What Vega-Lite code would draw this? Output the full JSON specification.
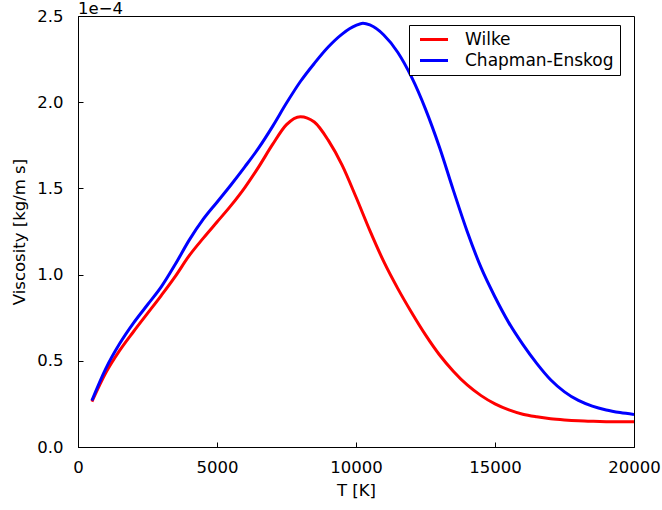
{
  "$schema": "https://vega.github.io/schema/vega-lite/v6.json",
  "width": 556,
  "height": 431,
  "autosize": {"type": "none"},
  "padding": {"left": 78, "top": 16, "right": 28, "bottom": 63},
  "background": "white",
  "title": {"text": "1e\u22124", "anchor": "start", "frame": "group", "font": "DejaVu Sans", "fontSize": 16.5, "fontWeight": "normal", "color": "black", "baseline": "alphabetic", "offset": 0, "dy": 22},
  "config": {
    "view": {"stroke": "black", "strokeWidth": 1},
    "axis": {"labelFont": "DejaVu Sans", "labelFontSize": 16.5, "labelColor": "black", "titleFont": "DejaVu Sans", "titleFontSize": 16.5, "titleFontWeight": "normal", "titleColor": "black", "tickColor": "black", "domainColor": "black", "grid": false, "tickSize": -5, "labelFlush": false},
    "legend": {"labelFont": "DejaVu Sans", "labelFontSize": 17, "labelColor": "black"}
  },
  "data": {"values": [
    {"T": 500, "v": 0.263e-4, "model": "Wilke"},
    {"T": 1000, "v": 0.43e-4, "model": "Wilke"},
    {"T": 1500, "v": 0.56e-4, "model": "Wilke"},
    {"T": 2000, "v": 0.67e-4, "model": "Wilke"},
    {"T": 2500, "v": 0.775e-4, "model": "Wilke"},
    {"T": 3000, "v": 0.88e-4, "model": "Wilke"},
    {"T": 3500, "v": 0.99e-4, "model": "Wilke"},
    {"T": 4000, "v": 1.11e-4, "model": "Wilke"},
    {"T": 4500, "v": 1.21e-4, "model": "Wilke"},
    {"T": 5000, "v": 1.305e-4, "model": "Wilke"},
    {"T": 5500, "v": 1.40e-4, "model": "Wilke"},
    {"T": 6000, "v": 1.505e-4, "model": "Wilke"},
    {"T": 6500, "v": 1.625e-4, "model": "Wilke"},
    {"T": 7000, "v": 1.755e-4, "model": "Wilke"},
    {"T": 7500, "v": 1.87e-4, "model": "Wilke"},
    {"T": 8000, "v": 1.916e-4, "model": "Wilke"},
    {"T": 8500, "v": 1.885e-4, "model": "Wilke"},
    {"T": 9000, "v": 1.78e-4, "model": "Wilke"},
    {"T": 9500, "v": 1.635e-4, "model": "Wilke"},
    {"T": 10000, "v": 1.45e-4, "model": "Wilke"},
    {"T": 10500, "v": 1.255e-4, "model": "Wilke"},
    {"T": 11000, "v": 1.075e-4, "model": "Wilke"},
    {"T": 11500, "v": 0.92e-4, "model": "Wilke"},
    {"T": 12000, "v": 0.78e-4, "model": "Wilke"},
    {"T": 12500, "v": 0.65e-4, "model": "Wilke"},
    {"T": 13000, "v": 0.535e-4, "model": "Wilke"},
    {"T": 13500, "v": 0.44e-4, "model": "Wilke"},
    {"T": 14000, "v": 0.36e-4, "model": "Wilke"},
    {"T": 14500, "v": 0.298e-4, "model": "Wilke"},
    {"T": 15000, "v": 0.25e-4, "model": "Wilke"},
    {"T": 15500, "v": 0.215e-4, "model": "Wilke"},
    {"T": 16000, "v": 0.19e-4, "model": "Wilke"},
    {"T": 16500, "v": 0.175e-4, "model": "Wilke"},
    {"T": 17000, "v": 0.164e-4, "model": "Wilke"},
    {"T": 17500, "v": 0.157e-4, "model": "Wilke"},
    {"T": 18000, "v": 0.152e-4, "model": "Wilke"},
    {"T": 18500, "v": 0.149e-4, "model": "Wilke"},
    {"T": 19000, "v": 0.147e-4, "model": "Wilke"},
    {"T": 19500, "v": 0.146e-4, "model": "Wilke"},
    {"T": 20000, "v": 0.146e-4, "model": "Wilke"},
    {"T": 500, "v": 0.27e-4, "model": "Chapman-Enskog"},
    {"T": 1000, "v": 0.455e-4, "model": "Chapman-Enskog"},
    {"T": 1500, "v": 0.60e-4, "model": "Chapman-Enskog"},
    {"T": 2000, "v": 0.72e-4, "model": "Chapman-Enskog"},
    {"T": 2500, "v": 0.825e-4, "model": "Chapman-Enskog"},
    {"T": 3000, "v": 0.93e-4, "model": "Chapman-Enskog"},
    {"T": 3500, "v": 1.06e-4, "model": "Chapman-Enskog"},
    {"T": 4000, "v": 1.20e-4, "model": "Chapman-Enskog"},
    {"T": 4500, "v": 1.32e-4, "model": "Chapman-Enskog"},
    {"T": 5000, "v": 1.42e-4, "model": "Chapman-Enskog"},
    {"T": 5500, "v": 1.52e-4, "model": "Chapman-Enskog"},
    {"T": 6000, "v": 1.625e-4, "model": "Chapman-Enskog"},
    {"T": 6500, "v": 1.735e-4, "model": "Chapman-Enskog"},
    {"T": 7000, "v": 1.86e-4, "model": "Chapman-Enskog"},
    {"T": 7500, "v": 1.995e-4, "model": "Chapman-Enskog"},
    {"T": 8000, "v": 2.12e-4, "model": "Chapman-Enskog"},
    {"T": 8500, "v": 2.225e-4, "model": "Chapman-Enskog"},
    {"T": 9000, "v": 2.32e-4, "model": "Chapman-Enskog"},
    {"T": 9500, "v": 2.395e-4, "model": "Chapman-Enskog"},
    {"T": 10000, "v": 2.445e-4, "model": "Chapman-Enskog"},
    {"T": 10250, "v": 2.458e-4, "model": "Chapman-Enskog"},
    {"T": 10500, "v": 2.448e-4, "model": "Chapman-Enskog"},
    {"T": 11000, "v": 2.39e-4, "model": "Chapman-Enskog"},
    {"T": 11500, "v": 2.29e-4, "model": "Chapman-Enskog"},
    {"T": 12000, "v": 2.145e-4, "model": "Chapman-Enskog"},
    {"T": 12500, "v": 1.96e-4, "model": "Chapman-Enskog"},
    {"T": 13000, "v": 1.74e-4, "model": "Chapman-Enskog"},
    {"T": 13500, "v": 1.49e-4, "model": "Chapman-Enskog"},
    {"T": 14000, "v": 1.25e-4, "model": "Chapman-Enskog"},
    {"T": 14500, "v": 1.04e-4, "model": "Chapman-Enskog"},
    {"T": 15000, "v": 0.87e-4, "model": "Chapman-Enskog"},
    {"T": 15500, "v": 0.72e-4, "model": "Chapman-Enskog"},
    {"T": 16000, "v": 0.595e-4, "model": "Chapman-Enskog"},
    {"T": 16500, "v": 0.485e-4, "model": "Chapman-Enskog"},
    {"T": 17000, "v": 0.39e-4, "model": "Chapman-Enskog"},
    {"T": 17500, "v": 0.32e-4, "model": "Chapman-Enskog"},
    {"T": 18000, "v": 0.27e-4, "model": "Chapman-Enskog"},
    {"T": 18500, "v": 0.237e-4, "model": "Chapman-Enskog"},
    {"T": 19000, "v": 0.215e-4, "model": "Chapman-Enskog"},
    {"T": 19500, "v": 0.2e-4, "model": "Chapman-Enskog"},
    {"T": 20000, "v": 0.189e-4, "model": "Chapman-Enskog"}
  ]},
  "mark": {"type": "line", "strokeWidth": 3, "interpolate": "monotone", "clip": true},
  "encoding": {
    "x": {"field": "T", "type": "quantitative", "title": "T [K]", "scale": {"domain": [0, 20000], "nice": false}, "axis": {"values": [0, 5000, 10000, 15000, 20000], "format": "d", "labelPadding": 17, "titlePadding": 7}},
    "y": {"field": "v", "type": "quantitative", "title": "Viscosity [kg/m s]", "scale": {"domain": [0, 0.00025], "nice": false}, "axis": {"values": [0, 0.00005, 0.0001, 0.00015, 0.0002, 0.00025], "labelExpr": "format(datum.value*10000, '.1f')", "labelPadding": 20, "titlePadding": 9}},
    "color": {"field": "model", "type": "nominal", "sort": ["Wilke", "Chapman-Enskog"], "scale": {"domain": ["Wilke", "Chapman-Enskog"], "range": ["#ff0000", "#0000ff"]}, "legend": {"title": null, "orient": "none", "legendX": 331, "legendY": 9, "symbolType": "M-4,0H4", "symbolSize": 49, "symbolStrokeWidth": 3, "symbolOffset": 10.5, "labelOffset": 22.5, "padding": 6, "rowPadding": 3, "strokeColor": "black", "fillColor": "white"}}
  }
}
